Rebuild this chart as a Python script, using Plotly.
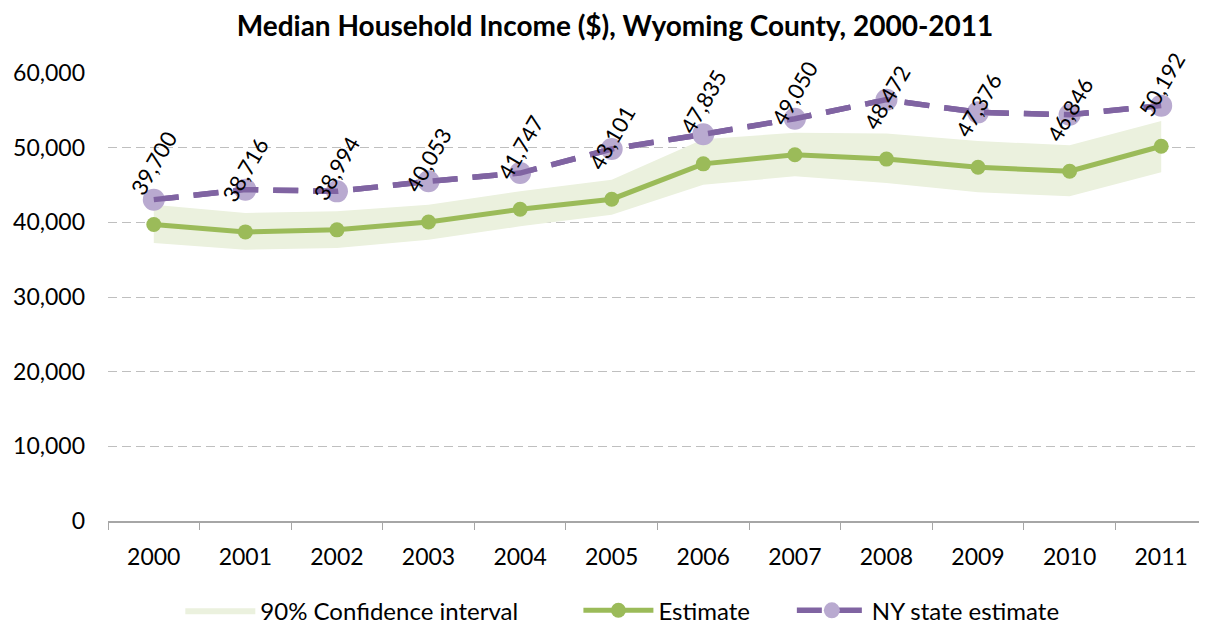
import plotly.graph_objects as go

years = ["2000", "2001", "2002", "2003", "2004", "2005", "2006", "2007", "2008", "2009", "2010", "2011"]
estimate = [39700, 38716, 38994, 40053, 41747, 43101, 47835, 49050, 48472, 47376, 46846, 50192]
ci_upper = [42370, 41250, 41470, 42370, 44150, 45710, 51120, 52000, 51900, 50890, 50310, 53570]
ci_lower = [37230, 36340, 36560, 37680, 39460, 41030, 45040, 46160, 45270, 44020, 43480, 46700]
ny_state = [43040, 44380, 44150, 45490, 46600, 49820, 51790, 53880, 56430, 54730, 54420, 55630]
y_ticks = [0, 10000, 20000, 30000, 40000, 50000, 60000]

FONT = "Lato"
GREEN = "#9BBB59"
BAND = "#EBF1DE"
PURPLE = "#8064A2"
LIGHT_PURPLE = "#B9AAD0"

fig = go.Figure()

fig.add_trace(go.Scatter(
    x=years, y=ci_lower, mode="lines", line=dict(width=0, color=BAND),
    showlegend=False, hoverinfo="skip"))
fig.add_trace(go.Scatter(
    x=years, y=ci_upper, mode="lines", line=dict(width=0, color=BAND),
    fill="tonexty", fillcolor=BAND, name="90% Confidence interval" + "\u00a0" * 9))
fig.add_trace(go.Scatter(
    x=years, y=estimate, mode="lines+markers", name="Estimate" + "\u00a0" * 6,
    line=dict(color=GREEN, width=5),
    marker=dict(color=GREEN, size=15, line=dict(width=0))))
fig.add_trace(go.Scatter(
    x=years, y=ny_state, mode="lines+markers", name="NY state estimate",
    line=dict(color=PURPLE, width=5.5, dash="25px,15px"),
    marker=dict(color=LIGHT_PURPLE, size=22, line=dict(width=0))))
fig.add_trace(go.Scatter(
    x=years, y=ny_state, mode="lines", showlegend=False, hoverinfo="skip",
    line=dict(color=PURPLE, width=5.5, dash="25px,15px")))

for i, v in enumerate(estimate):
    fig.add_annotation(
        x=i, y=v, xref="x", yref="y", text=f"{v:,}", showarrow=False,
        textangle=-60, yshift=62, xanchor="center", yanchor="middle",
        font=dict(family=FONT, size=22, color="#000000"))

fig.update_layout(
    width=1199, height=621,
    margin=dict(l=100, r=0, t=65, b=108, autoexpand=False),
    paper_bgcolor="white", plot_bgcolor="white",
    font=dict(family=FONT, size=22, color="#000000"),
    title=dict(text="<b>Median Household Income ($), Wyoming County, 2000-2011</b>",
               x=607 / 1199, xref="container", xanchor="center",
               y=1 - 18 / 621, yref="container", yanchor="middle",
               font=dict(family=FONT, size=28, color="#000000")),
    showlegend=True,
    legend=dict(orientation="h", x=0.468, xanchor="center", y=-0.150, yanchor="top",
                font=dict(family=FONT, size=24), traceorder="normal",
                itemwidth=70),
)

fig.update_xaxes(
    type="category", tickson="boundaries", ticks="outside", ticklen=7,
    tickcolor="#A6A6A6", showline=True, linecolor="#A6A6A6", linewidth=1.5,
    showgrid=False, ticklabelstandoff=15, automargin=False,
    tickfont=dict(family=FONT, size=23), range=[-0.5, 11.5])

fig.update_yaxes(
    range=[0, 60000], tickvals=y_ticks, tickformat=",d",
    showgrid=True, gridcolor="#BFBFBF", griddash="9px,5px", gridwidth=1,
    showline=False, zeroline=False, ticks="", ticklabelstandoff=22,
    automargin=False, tickfont=dict(family=FONT, size=23))

fig.write_html("out.html")
